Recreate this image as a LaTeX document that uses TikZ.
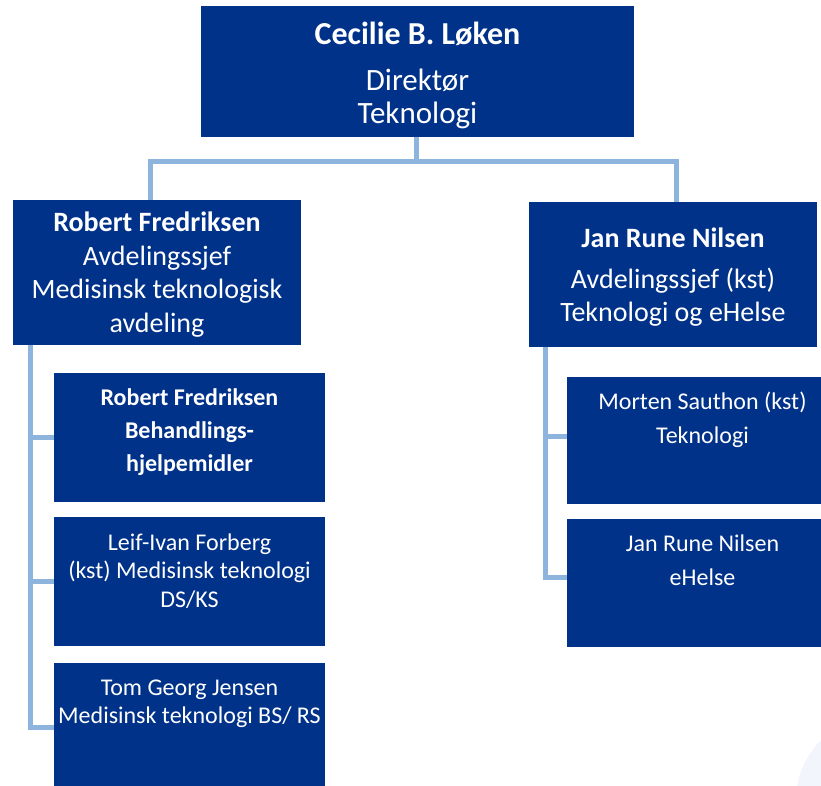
\documentclass[tikz,border=0pt]{standalone}
\usepackage{fontspec}
\setmainfont{Carlito}
\definecolor{boxblue}{RGB}{0,50,137}
\definecolor{linkblue}{RGB}{141,180,221}
\definecolor{paleblue}{RGB}{242,246,252}
% #1 width, #2 height, #3 font size, #4 baseline skip, #5 content
\newcommand{\orgtext}[5]{\parbox[c][#2][t]{#1}{\centering\fontsize{#3}{#4}\selectfont #5}}
\begin{document}
\begin{tikzpicture}[x=1pt,y=-1pt,
  box/.style={fill=boxblue,text=white,inner sep=0pt,outer sep=0pt,anchor=north west},
  conn/.style={draw=linkblue,line width=5pt}]
\useasboundingbox (0,0) rectangle (821,785);
\clip (0,0) rectangle (821,785);
\fill[paleblue] (880,800) circle[radius=84];

\node[box] (top) at (201,6) {\orgtext{433pt}{131pt}{31}{33}{{\fontsize{32}{33}\selectfont\bfseries\rule{0pt}{38pt}Cecilie B. Løken}\\[13pt]Direktør\\Teknologi}};

\node[box] (robert) at (13,200) {\orgtext{288pt}{145pt}{28}{33.5}{\bfseries\rule{0pt}{31.5pt}Robert Fredriksen\\\mdseries Avdelingssjef\\Medisinsk teknologisk\\avdeling}};

\node[box] (jan) at (529,202) {\orgtext{288pt}{145pt}{28}{33}{\bfseries\rule{0pt}{45pt}Jan Rune Nilsen\\[8pt]\mdseries Avdelingssjef (kst)\\Teknologi og eHelse}};

\node[box] (s1) at (54,373) {\orgtext{271pt}{129pt}{24}{33}{\bfseries\rule{0pt}{32pt}Robert Fredriksen\\Behandlings-\\hjelpemidler}};
\node[box] (s2) at (54,517) {\orgtext{271pt}{129pt}{24}{28.5}{\rule{0pt}{33pt}Leif-Ivan Forberg\\(kst) Medisinsk teknologi\\DS/KS}};
\node[box] (s3) at (54,663) {\orgtext{271pt}{129pt}{24}{28}{\rule{0pt}{32pt}Tom Georg Jensen\\Medisinsk teknologi BS/ RS}};

\node[box] (r1) at (567,377) {\orgtext{271pt}{127pt}{24}{34}{\rule{0pt}{32pt}Morten Sauthon (kst)\\Teknologi}};
\node[box] (r2) at (567,519) {\orgtext{271pt}{128pt}{24}{34}{\rule{0pt}{32pt}Jan Rune Nilsen\\eHelse}};

\draw[conn] ([xshift=-1.5pt]top.south) -- ++(0,24.5) -| ([xshift=-6.5pt]robert.north);
\draw[conn] ([xshift=-1.5pt]top.south) -- ++(0,24.5) -| ([xshift=3pt]jan.north);
\draw[conn] ([xshift=17pt]robert.south west) |- (s1.west);
\draw[conn] ([xshift=17pt]robert.south west) |- (s2.west);
\draw[conn] ([xshift=17pt]robert.south west) |- (s3.west);
\draw[conn] ([xshift=16pt]jan.south west) |- ([yshift=4.5pt]r1.west);
\draw[conn] ([xshift=16pt]jan.south west) |- ([yshift=5.5pt]r2.west);
\end{tikzpicture}
\end{document}
